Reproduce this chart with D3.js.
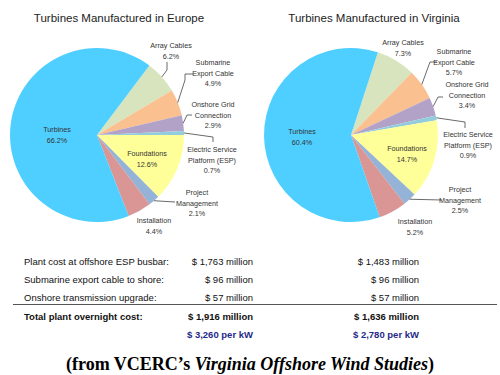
<!DOCTYPE html>
<html><head><meta charset="utf-8">
<script src="https://cdn.jsdelivr.net/npm/d3@7"></script>
<style>html,body{margin:0;padding:0;background:#fff;}svg{display:block;}</style>
</head><body>
<svg id="c" width="500" height="375"></svg>
<script>
// ---- data ----
const categories = ["Array Cables","Submarine Export Cable","Onshore Grid Connection","Electric Service Platform (ESP)","Foundations","Project Management","Installation","Turbines"];
const labelLines = [["Array Cables"],["Submarine","Export Cable"],["Onshore Grid","Connection"],["Electric Service","Platform (ESP)"],["Foundations"],["Project","Management"],["Installation"],["Turbines"]];
const europeValues = [6.2, 4.9, 2.9, 0.7, 12.6, 2.1, 4.4, 66.2];
const virginiaValues = [7.3, 5.7, 3.4, 0.9, 14.7, 2.5, 5.2, 60.4];
const pieTitles = ["Turbines Manufactured in Europe", "Turbines Manufactured in Virginia"];
const rowLabels = ["Plant cost at offshore ESP busbar:", "Submarine export cable to shore:", "Onshore transmission upgrade:", "Total plant overnight cost:", ""];
const europeCosts = ["$ 1,763 million", "$ 96 million", "$ 57 million", "$ 1,916 million", "$ 3,260 per kW"];
const virginiaCosts = ["$ 1,483 million", "$ 96 million", "$ 57 million", "$ 1,636 million", "$ 2,780 per kW"];

// ---- styles / layout ----
const colors = ["#D7E4BD","#FAC08F","#B3A2C7","#93CDDD","#FFFF99","#95B3D7","#D99694","#4FCFFF"];
const R = 87;
const pies = [
  {cx: 97, cy: 135, start: 37, titleX: 119,
   labels: [[74,-84],[116,-62],[116,-20],[115,25],[50,24],[100,68],[57,91],[-40,0]],
   leaders: {0:[[70,-65],[70,-73]],1:[[88,-55],[88,-61],[96,-61]],2:[[90,-20],[95,-20]],3:[[116,2],[116,7]],5:[[78,67]]}},
  {cx: 351, cy: 135, start: 18, titleX: 374,
   labels: [[52,-87],[103,-73],[116,-40],[117,10],[56,19],[109,65],[64,92],[-49,2]],
   leaders: {1:[[79,-73],[86,-73]],2:[[87,-38],[92,-38]],3:[[114,-13],[114,-7]],5:[[91,65]]}}
];

const svg = d3.select("#c");
const dataSets = [europeValues, virginiaValues];

pies.forEach((p, pi) => {
  const vals = dataSets[pi];
  const data = categories.map((c, i) => ({cat: c, v: vals[i], i}));
  const total = d3.sum(vals);
  const pie = d3.pie().value(d => d.v).sort(null)
    .startAngle(p.start * Math.PI / 180)
    .endAngle(p.start * Math.PI / 180 + 2 * Math.PI * (total / 100));
  const arcs = pie(data);
  const arc = d3.arc().innerRadius(0).outerRadius(R);
  const g = svg.append("g").attr("transform", `translate(${p.cx},${p.cy})`);
  g.selectAll("path.slice").data(arcs).join("path")
    .attr("class","slice")
    .attr("d", arc)
    .attr("fill", d => colors[d.data.i])
    .attr("stroke", "none");

  // leader lines
  arcs.forEach(a => {
    const pts = p.leaders[a.data.i];
    if (!pts) return;
    const mid = (a.startAngle + a.endAngle) / 2;
    const start = [Math.sin(mid) * R, -Math.cos(mid) * R];
    g.append("path")
      .attr("d", d3.line()([start, ...pts]))
      .attr("fill","none").attr("stroke","#444").attr("stroke-width",0.8);
  });

  // labels
  arcs.forEach(a => {
    const i = a.data.i;
    const [lx, ly] = p.labels[i];
    const lines = labelLines[i].concat([d3.format(".1f")(a.data.v) + "%"]);
    const t = g.append("text")
      .attr("font-family","'Liberation Sans', Arial, sans-serif")
      .attr("font-size", 7.2)
      .attr("fill", "#333")
      .attr("text-anchor","middle");
    lines.forEach((s, k) => {
      t.append("tspan").attr("x", lx).attr("y", ly + k * 10.2 - (lines.length - 1) * 5.1 + 2.5).text(s);
    });
  });

  svg.append("text")
    .attr("x", p.titleX).attr("y", 22)
    .attr("text-anchor","middle")
    .attr("font-family","'Liberation Sans', Arial, sans-serif")
    .attr("font-size", 11.5)
    .attr("fill","#222")
    .text(pieTitles[pi]);
});

// ---- table ----
const rowY = [265, 283, 301, 320, 338];
const tf = "'Liberation Sans', Arial, sans-serif";
rowLabels.forEach((s, i) => {
  const bold = i >= 3;
  const col = i === 4 ? "#1F2A8A" : "#111";
  if (s) svg.append("text").attr("x", 24).attr("y", rowY[i]).attr("font-family", tf)
    .attr("font-size", 9.5).attr("font-weight", bold ? "bold" : "normal").attr("fill", col).text(s);
  svg.append("text").attr("x", 253).attr("y", rowY[i]).attr("text-anchor","end").attr("font-family", tf)
    .attr("font-size", 9.5).attr("font-weight", bold ? "bold" : "normal").attr("fill", col).text(europeCosts[i]);
  svg.append("text").attr("x", 419).attr("y", rowY[i]).attr("text-anchor","end").attr("font-family", tf)
    .attr("font-size", 9.5).attr("font-weight", bold ? "bold" : "normal").attr("fill", col).text(virginiaCosts[i]);
});
svg.append("line").attr("x1", 13).attr("x2", 497).attr("y1", 304.5).attr("y2", 304.5)
  .attr("stroke","#555").attr("stroke-width",1.2);

// ---- caption ----
const cap = svg.append("text").attr("x", 250).attr("y", 370).attr("text-anchor","middle")
  .attr("font-family","'Liberation Serif', 'Times New Roman', serif").attr("font-size", 18)
  .attr("font-weight","bold").attr("fill","#000");
cap.append("tspan").text("(from VCERC\u2019s ");
cap.append("tspan").attr("font-style","italic").text("Virginia Offshore Wind Studies");
cap.append("tspan").text(")");
</script>
</body></html>
